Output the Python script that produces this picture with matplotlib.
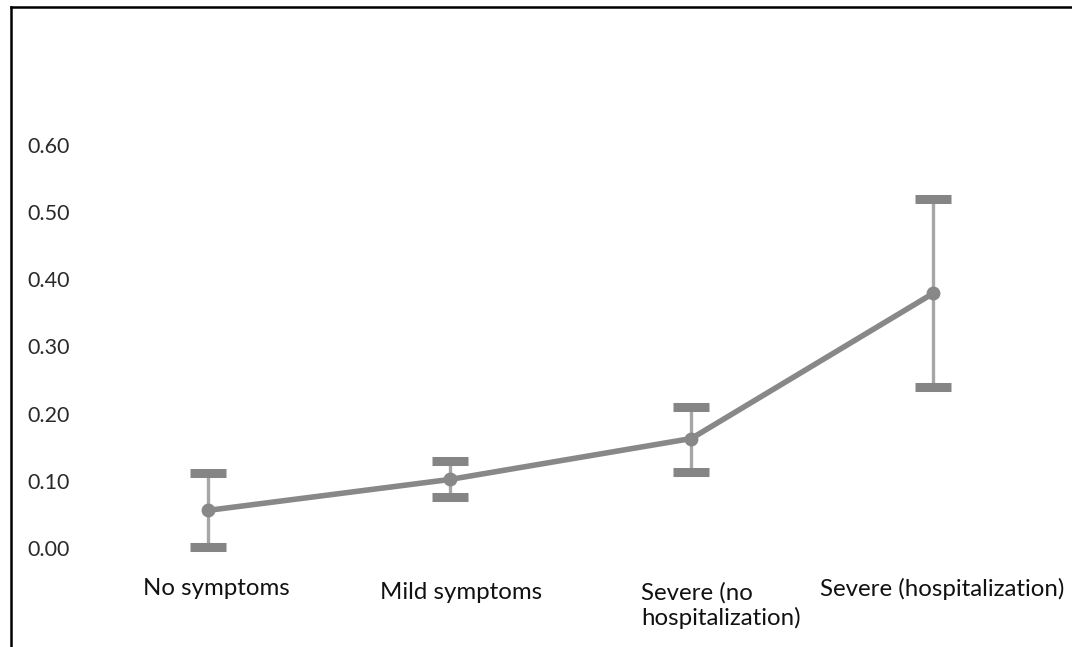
import matplotlib.pyplot as plt
from matplotlib.lines import Line2D

plt.rcParams['font.family'] = ['Lato', 'DejaVu Sans']

# data
categories = ["No symptoms", "Mild symptoms", "Severe (no\nhospitalization)", "Severe (hospitalization)"]
means = [0.056, 0.102, 0.163, 0.379]
upper = [0.111, 0.129, 0.210, 0.519]
lower = [0.002, 0.076, 0.113, 0.240]
yticks = [0.0, 0.1, 0.2, 0.3, 0.4, 0.5, 0.6]

W, H = 1072, 647
fig = plt.figure(figsize=(W / 100, H / 100), dpi=100)

# axes placed so that y=0 sits at px 548 and y=0.6 at px 145
ylo, yhi = -0.12, 0.80
ppu = (548 - 145) / 0.6
top_px = 548 - yhi * ppu
bot_px = 548 - ylo * ppu
xlo, xhi = -0.78, 3.55
ppx = (933 - 208) / 3
left_px = 208 + xlo * ppx
right_px = 208 + xhi * ppx
ax = fig.add_axes([left_px / W, 1 - bot_px / H, (right_px - left_px) / W, (bot_px - top_px) / H])
ax.set_xlim(xlo, xhi)
ax.set_ylim(ylo, yhi)
for s in ax.spines.values():
    s.set_visible(False)

x = list(range(len(categories)))
yerr = [[m - l for m, l in zip(means, lower)], [u - m for m, u in zip(means, upper)]]
eb = ax.errorbar(x, means, yerr=yerr, fmt='none', ecolor='#a6a6a6', elinewidth=2.4,
                 capsize=13, capthick=6.5, zorder=2)
for cap in eb[1]:
    cap.set_markeredgecolor('#858585')
ax.plot(x, means, color='#888888', lw=4, marker='o', ms=9, mfc='#888888', mec='#888888',
        solid_capstyle='round', zorder=3)

ax.set_yticks(yticks)
ax.set_yticklabels(['%.2f' % v for v in yticks], ha='left', fontsize=15.5, color='#2a2a2a')
ax.tick_params(axis='y', length=0, pad=-5.5)
ax.set_xticks([])

# category labels
offs = [(0.033, -0.06, 'center'), (1.047, -0.066, 'center'), (1.792, -0.086, 'left'), (3.04, -0.061, 'center')]
for lab, (ox, oy, ha) in zip(categories, offs):
    ax.text(ox, oy, lab, ha=ha, va='center', fontsize=17.3, color='#111111', linespacing=1.2)

# outer frame: only top and left edges show in the picture
fy = 1 - 7 / H
fx = 11 / W
fig.add_artist(Line2D([fx, 1.2], [fy, fy], transform=fig.transFigure, color='black', lw=1.8))
fig.add_artist(Line2D([fx, fx], [fy, -0.2], transform=fig.transFigure, color='black', lw=1.8))

fig.savefig('out.png', dpi=100)
